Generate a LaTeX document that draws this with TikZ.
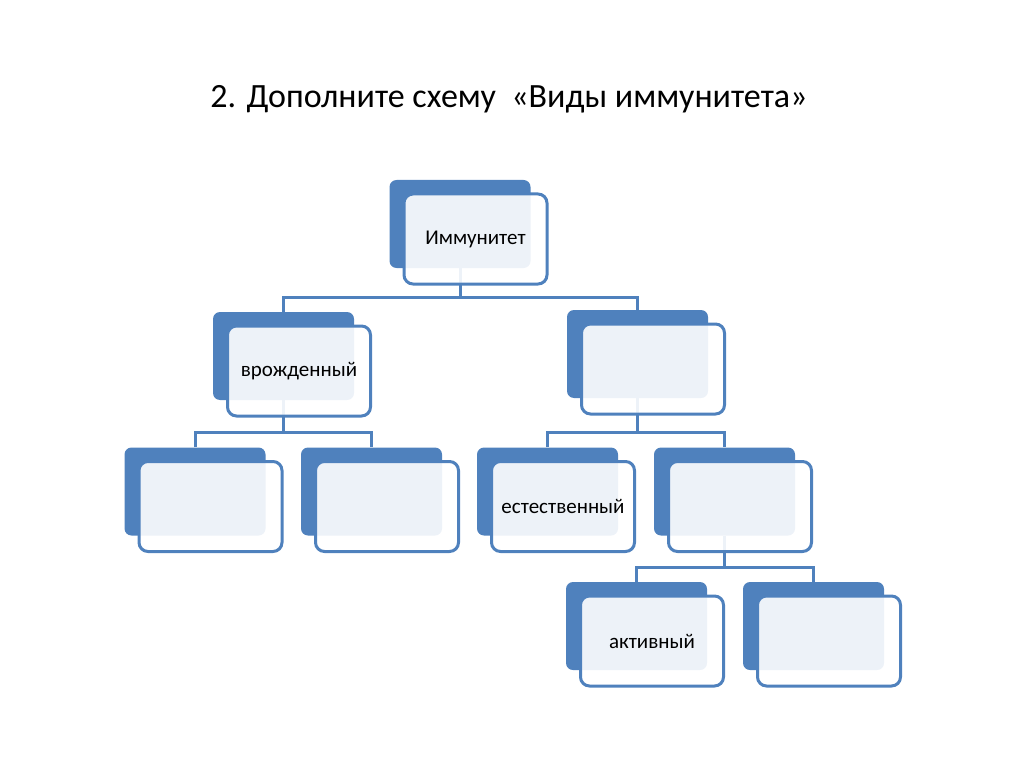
\documentclass[tikz,border=0pt]{standalone}
\usepackage{fontspec}
\setmainfont{Carlito}
\definecolor{boxblue}{RGB}{79,129,189}

\begin{document}
\begin{tikzpicture}[x=1pt, y=-1pt,
        back/.style={
            rectangle, rounded corners=7pt, fill=boxblue,
            minimum width=141pt, minimum height=88pt, inner sep=0pt
        },
        front/.style={
            rectangle, rounded corners=9pt, draw=boxblue, line width=3pt,
            fill=white, fill opacity=0.9, text opacity=1,
            minimum width=143pt, minimum height=90pt, inner sep=0pt,
            font=\fontsize{21}{25}\selectfont
        },
        link/.style={draw=boxblue, line width=3pt},
        title/.style={font=\fontsize{34}{40}\selectfont}
    ]
    \useasboundingbox (0,0) rectangle (1024,767);

    \node[title] (head) at (509,99) {2. Дополните схему\ \ «Виды иммунитета»};

    % back boxes
    \node[back] (imm) at (460,224) {};
    \node[back] (vr) at (283.5,356) {};
    \node[back] (pr) at (637.5,354) {};
    \node[back] (vr1) at (195,491.5) {};
    \node[back] (vr2) at (371.5,491.5) {};
    \node[back] (est) at (547.5,491.5) {};
    \node[back] (isk) at (724.5,491.5) {};
    \node[back] (akt) at (636.5,626) {};
    \node[back] (pas) at (813.5,626) {};

    % connectors
    \coordinate (bar1) at (460,297);
    \coordinate (bar2) at (283.5,432);
    \coordinate (bar3) at (637.5,432);
    \coordinate (bar4) at (724.5,567);
    \draw[link] (imm.south) -- (bar1);
    \draw[link] (vr.north) |- (bar1) -| (pr.north);
    \draw[link] (vr.south) -- (bar2);
    \draw[link] (vr1.north) |- (bar2) -| (vr2.north);
    \draw[link] (pr.south) -- (bar3);
    \draw[link] (est.north) |- (bar3) -| (isk.north);
    \draw[link] (isk.south) -- (bar4);
    \draw[link] (akt.north) |- (bar4) -| (pas.north);

    % front boxes
    \node[front] (immf) at ([xshift=15.5pt,yshift=-15pt]imm.center) {Иммунитет};
    \node[front] (vrf) at ([xshift=15.5pt,yshift=-15pt]vr.center) {врожденный};
    \node[front] (prf) at ([xshift=15.5pt,yshift=-15pt]pr.center) {};
    \node[front] (vr1f) at ([xshift=15.5pt,yshift=-15pt]vr1.center) {};
    \node[front] (vr2f) at ([xshift=15.5pt,yshift=-15pt]vr2.center) {};
    \node[front] (estf) at ([xshift=15.5pt,yshift=-15pt]est.center) {естественный};
    \node[front] (iskf) at ([xshift=15.5pt,yshift=-15pt]isk.center) {};
    \node[front] (aktf) at ([xshift=15.5pt,yshift=-15pt]akt.center) {активный};
    \node[front] (pasf) at ([xshift=15.5pt,yshift=-15pt]pas.center) {};
\end{tikzpicture}
\end{document}
